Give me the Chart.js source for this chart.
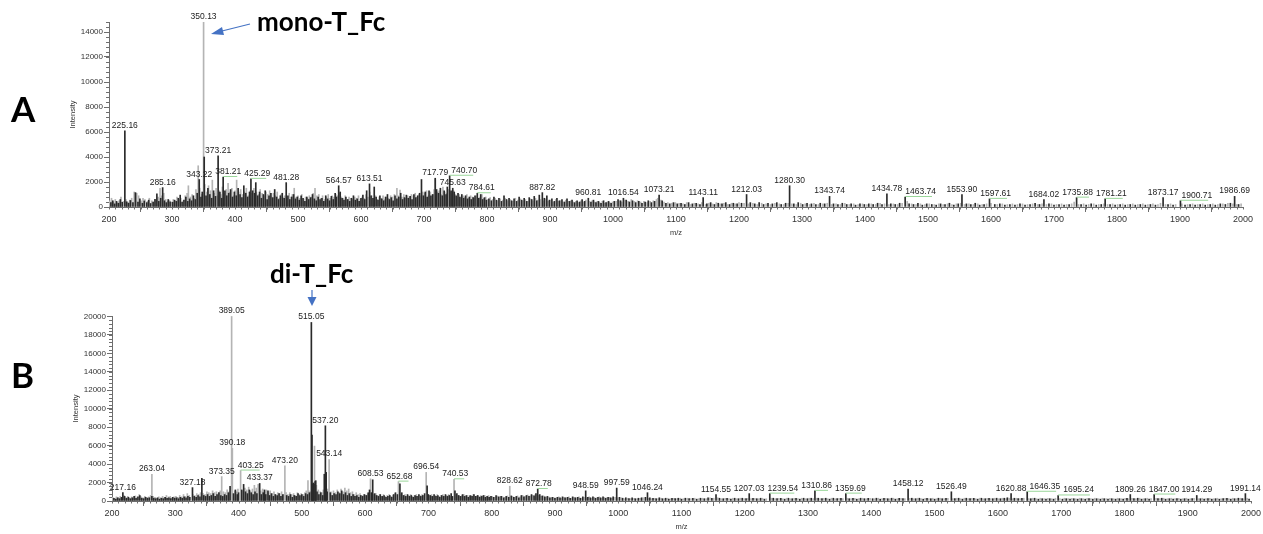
<!DOCTYPE html>
<html>
<head>
<meta charset="utf-8">
<script src="https://cdn.jsdelivr.net/npm/chart.js@4.4.1/dist/chart.umd.min.js"></script>
<style>
  html, body { margin: 0; padding: 0; background: #fff; }
  #page { position: relative; width: 1263px; height: 534px; overflow: hidden; }
  #chartA { position: absolute; left: 0; top: 0; }
  #chartB { position: absolute; left: 0; top: 240px; }
  #notes { position: absolute; left: 0; top: 0; pointer-events: none; }
  #notes text { font-family: Lato, "Open Sans", sans-serif; font-weight: bold; fill: #000; }
</style>
</head>
<body>
<div id="page">
  <canvas id="chartA" width="1263" height="240"></canvas>
  <canvas id="chartB" width="1263" height="294"></canvas>
  <svg id="notes" width="1263" height="534">
    <text x="11" y="122" font-size="35">A</text>
    <text x="11" y="388" font-size="35">B</text>
    <text x="257" y="31" font-size="26">mono-T_Fc</text>
    <line x1="250" y1="24" x2="222" y2="31" stroke="#4472C4" stroke-width="1.2"/>
    <polygon points="211,34 222,27 224,35" fill="#4472C4"/>
    <text x="270" y="283" font-size="26">di-T_Fc</text>
    <line x1="312" y1="290" x2="312" y2="298" stroke="#4472C4" stroke-width="1.2"/>
    <polygon points="307.5,297 316.5,297 312,306" fill="#4472C4"/>
  </svg>
</div>
<script>
// m/z axis tick labels
const mzTicks = [200, 300, 400, 500, 600, 700, 800, 900, 1000, 1100, 1200,
  1300, 1400, 1500, 1600, 1700, 1800, 1900, 2000];
// intensity tick labels
const aYTicks = [0, 2000, 4000, 6000, 8000, 10000, 12000, 14000];
const bYTicks = [0, 2000, 4000, 6000, 8000, 10000, 12000, 14000, 16000, 18000, 20000];

// Panel A (mono-T_Fc) - [m/z, intensity]
const aDark = [
  [203,350],[206,500],[209,250],[212,450],[215,300],[218,600],[221,380],[225.16,6100],[228,420],[231,300],
  [234,520],[238,350],[242,1150],[246,400],[249,650],[253,300],[256,480],[260,350],[263,550],[266,280],
  [270,400],[273,620],[276,1050],[279,450],[282,700],[285.16,1550],[288,500],[291,350],[294,600],[297,420],
  [301,380],[304,550],[307,450],[310,700],[313,950],[316,400],[319,550],[322,800],[325,450],[328,650],
  [331,500],[334,900],[337,600],[340,1100],[343.22,2200],[346,800],[348,1200],[351.13,4000],[354,900],[357,1500],
  [360,1000],[363,700],[366,1300],[369,850],[373.21,4100],[376,1200],[379,700],[381.21,2400],[384,1300],[387,900],
  [390,1100],[393,1400],[396,800],[399,1200],[402,900],[405,1500],[408,1000],[411,750],[414,1700],[417,1100],
  [420,800],[423,1200],[425.29,2250],[428,1300],[431,1100],[433,1950],[436,900],[439,1200],[442,700],[445,1000],
  [448,1300],[451,600],[454,900],[457,1100],[460,750],[463,1400],[466,800],[469,600],[472,900],[475,1100],
  [478,700],[481.28,1950],[484,900],[487,600],[490,800],[493,1000],[496,650],[499,800],[502,550],[505,900],
  [508,700],[511,450],[514,800],[517,600],[520,750],[523,1000],[526,650],[529,500],[532,800],[535,600],
  [538,700],[541,450],[544,900],[547,650],[550,500],[553,850],[556,600],[559,1100],[561,800],[564.57,1700],
  [567,1200],[570,700],[573,550],[576,800],[579,600],[582,450],[585,700],[588,900],[591,550],[594,650],
  [597,450],[600,700],[603,950],[606,600],[609,1300],[613.51,1850],[616,900],[619,700],[621,1600],[624,800],
  [627,550],[630,900],[633,650],[636,500],[639,800],[642,1000],[645,600],[648,750],[651,500],[654,900],
  [657,650],[660,800],[663,1100],[666,600],[669,750],[672,950],[675,700],[678,850],[681,600],[684,1000],
  [687,750],[690,900],[693,1100],[696,2200],[699,900],[702,1200],[705,800],[708,1300],[711,900],[714,1000],
  [717.79,2300],[720,1400],[723,1100],[726,1500],[729,900],[732,1300],[735,1000],[737,1600],[740.70,2500],[743,1300],
  [745.63,1500],[748,1200],[751,900],[754,1100],[757,800],[760,1000],[763,700],[766,900],[769,650],[772,800],
  [775,600],[778,750],[781,900],[784.61,1100],[787,700],[790,1000],[793,600],[796,750],[799,550],[803,650],
  [807,500],[811,800],[815,550],[819,700],[823,450],[827,900],[831,600],[835,700],[839,500],[843,650],
  [847,450],[851,800],[855,550],[859,700],[863,450],[867,750],[871,600],[875,850],[879,500],[883,950],
  [887.82,1150],[891,700],[895,900],[899,550],[903,650],[907,450],[911,700],[915,500],[919,600],[923,400],
  [927,650],[931,450],[935,550],[939,350],[943,500],[947,400],[951,600],[955,450],[960.81,700],[965,400],
  [969,550],[973,350],[977,450],[981,300],[985,500],[989,350],[993,450],[997,300],[1002,450],[1008,600],
  [1012,500],[1016.54,700],[1021,550],[1026,400],[1031,500],[1036,350],[1041,450],[1046,300],[1051,400],[1056,500],
  [1061,350],[1066,450],[1073.21,950],[1078,500],[1084,300],[1090,250],[1096,350],[1102,250],[1108,300],[1114,200],
  [1120,350],[1126,250],[1132,300],[1138,200],[1143.11,750],[1149,250],[1155,350],[1161,200],[1167,300],[1173,250],
  [1179,350],[1185,200],[1191,300],[1197,250],[1204,300],[1212.03,1000],[1218,350],[1225,250],[1232,350],[1239,200],
  [1246,300],[1253,250],[1260,350],[1267,200],[1274,300],[1280.30,1700],[1287,250],[1294,350],[1301,200],[1308,300],
  [1315,250],[1322,200],[1329,300],[1336,250],[1343.74,850],[1350,250],[1357,200],[1364,300],[1371,200],[1378,250],
  [1385,150],[1392,250],[1399,200],[1406,250],[1413,200],[1420,300],[1427,200],[1434.78,1050],[1441,250],[1448,200],
  [1455,300],[1463.74,800],[1470,250],[1477,200],[1484,300],[1491,150],[1498,250],[1506,200],[1513,150],[1520,250],
  [1527,200],[1534,300],[1541,150],[1548,250],[1553.90,1000],[1561,250],[1568,200],[1575,300],[1582,150],[1589,200],
  [1597.61,650],[1606,200],[1614,250],[1622,150],[1630,200],[1638,150],[1646,250],[1654,150],[1662,200],[1670,300],
  [1677,200],[1684.02,600],[1692,250],[1700,150],[1708,200],[1716,150],[1724,200],[1735.88,750],[1743,200],[1751,150],
  [1759,250],[1767,150],[1775,200],[1781.21,650],[1789,200],[1797,150],[1805,200],[1813,150],[1821,200],[1829,150],
  [1837,200],[1845,150],[1853,200],[1861,150],[1873.17,750],[1881,200],[1889,150],[1900.71,500],[1908,150],[1916,200],
  [1924,150],[1932,200],[1940,150],[1948,200],[1956,150],[1964,250],[1972,200],[1980,300],[1986.69,850],[1993,200]
];
const aLight = [
  [201,500],[204,700],[207,400],[210,600],[213,350],[216,500],[219,800],[223,450],[227,600],[230,400],
  [233,550],[236,700],[240,1200],[244,1100],[247,900],[251,500],[254,700],[257,600],[261,450],[264,700],
  [268,500],[271,400],[274,550],[278,800],[281,1500],[284,900],[287,1100],[290,600],[293,450],[296,550],
  [299,400],[302,600],[305,500],[308,800],[311,600],[314,700],[318,500],[321,900],[324,1100],[326,1700],
  [329,800],[332,1000],[335,700],[338,1400],[341.6,3300],[344,1500],[347,1000],[350.13,14800],[352,1800],[355,1200],
  [358,1700],[361,1300],[364,2150],[367,1100],[370,1500],[372,900],[375,1300],[378,1000],[380,1600],[383,1100],
  [386,1400],[389,1900],[392,1200],[395,1500],[398,900],[400,1300],[402.6,2150],[406,1200],[409,1400],[412,1000],
  [415,1200],[418,1500],[421,900],[424,1300],[427,1100],[430,1500],[434,1200],[437,1000],[440,1400],[443,1100],
  [446,900],[449,1200],[452,1000],[455,1300],[458,800],[461,1100],[464,900],[467,1200],[470,700],[473,1000],
  [476,800],[479,900],[483,700],[486,1100],[489,800],[491,1000],[494,1500],[497,800],[500,900],[503,700],
  [506,1000],[509,600],[512,800],[515,700],[518,900],[521,800],[524,1100],[527,1500],[530,900],[533,1000],
  [536,700],[539,900],[542,600],[545,800],[548,1000],[551,700],[554,900],[557,800],[560,1000],[563,900],
  [566,1100],[569,800],[572,700],[575,900],[578,600],[581,800],[584,700],[587,600],[590,800],[593,700],
  [596,900],[599,600],[602,800],[605,700],[608,1000],[611,800],[614,1200],[617,900],[620,700],[623,900],
  [626,600],[629,800],[632,700],[635,900],[638,600],[641,800],[644,700],[647,900],[650,800],[653,1000],
  [657,1500],[659,900],[662,1350],[665,800],[668,1000],[671,700],[674,900],[677,800],[680,1000],[683,900],
  [686,1100],[689,800],[692,1000],[695,900],[698,1200],[701,1100],[704,1300],[707,900],[710,1200],[713,1000],
  [716,1400],[718,2200],[721,1200],[724,1300],[727,1000],[730,1600],[733,1200],[736,1100],[739,1400],[742,1200],
  [744,1000],[747,1300],[750,1000],[753,800],[756,1000],[759,700],[762,900],[765,800],[768,1000],[771,700],
  [774,900],[777,800],[780,700],[783,900],[786,700],[789,800],[792,1000],[795,700],[798,800],[801,600],
  [805,750],[809,600],[813,700],[817,500],[821,650],[825,550],[829,700],[833,500],[837,600],[841,450],
  [845,700],[849,550],[853,650],[857,500],[861,600],[865,450],[869,650],[873,500],[877,700],[881,550],
  [885,600],[889,500],[893,650],[897,450],[901,550],[905,400],[909,600],[913,450],[917,500],[921,400],
  [925,550],[929,450],[933,500],[937,400],[941,450],[945,350],[949,500],[953,400],[957,550],[962,450],
  [967,500],[971,400],[975,450],[979,350],[983,450],[987,300],[991,400],[995,350],[999,400],[1005,450],
  [1010,500],[1014,400],[1019,550],[1024,450],[1029,600],[1034,450],[1039,500],[1044,400],[1049,450],[1054,350],
  [1059,450],[1064,500],[1069,600],[1071,700],[1076,550],[1081,400],[1087,350],[1093,300],[1099,350],[1105,300],
  [1111,250],[1117,350],[1123,200],[1129,300],[1135,250],[1141,350],[1147,200],[1152,300],[1158,250],[1164,350],
  [1170,250],[1176,300],[1182,200],[1188,300],[1194,250],[1200,350],[1208,300],[1215,250],[1222,300],[1229,200],
  [1236,300],[1243,250],[1250,200],[1257,300],[1264,250],[1271,200],[1278,300],[1284,250],[1291,200],[1298,300],
  [1305,250],[1312,200],[1319,300],[1326,200],[1333,250],[1340,300],[1347,200],[1354,250],[1361,200],[1368,300],
  [1375,200],[1382,250],[1389,200],[1396,250],[1403,200],[1410,250],[1417,200],[1424,300],[1431,250],[1438,200],
  [1445,250],[1452,200],[1459,300],[1467,450],[1474,250],[1481,200],[1488,250],[1495,200],[1502,250],[1510,200],
  [1517,250],[1524,200],[1531,250],[1538,200],[1545,250],[1552,300],[1558,200],[1565,250],[1572,200],[1579,250],
  [1586,200],[1593,250],[1600,300],[1610,200],[1618,250],[1626,200],[1634,250],[1642,200],[1650,250],[1658,200],
  [1666,250],[1674,200],[1681,250],[1688,200],[1696,250],[1704,200],[1712,250],[1720,200],[1728,250],[1732,400],
  [1739,200],[1747,250],[1755,200],[1763,250],[1771,200],[1779,250],[1785,200],[1793,250],[1801,200],[1809,250],
  [1817,200],[1825,250],[1833,200],[1841,250],[1849,200],[1857,250],[1865,200],[1869,300],[1877,200],[1885,250],
  [1893,200],[1903,250],[1912,200],[1920,250],[1928,200],[1936,250],[1944,200],[1952,250],[1960,200],[1968,250],
  [1976,300],[1984,250],[1990,200],[1997,250]
];
const aLabels = [225.16, 285.16, 343.22, 350.13, 373.21, 381.21, 425.29, 481.28, 564.57, 613.51,
  717.79, 740.70, 745.63, 784.61, 887.82, 960.81, 1016.54, 1073.21, 1143.11, 1212.03, 1280.30,
  1343.74, 1434.78, 1463.74, 1553.90, 1597.61, 1684.02, 1735.88, 1781.21, 1873.17, 1900.71, 1986.69];

// Panel B (di-T_Fc) - [m/z, intensity]
const bDark = [
  [203,300],[206,200],[209,350],[212,250],[215,400],[217.16,900],[220,500],[223,300],[226,400],[229,250],
  [232,350],[235,500],[238,300],[241,450],[244,600],[247,300],[250,250],[253,400],[256,300],[259,350],
  [263,500],[266,300],[269,250],[272,350],[275,200],[278,300],[281,250],[284,400],[287,300],[290,350],
  [293,250],[296,400],[299,300],[302,350],[305,250],[308,400],[311,300],[314,450],[317,350],[320,500],
  [323,400],[327.18,1450],[330,500],[333,400],[336,600],[339,450],[342,2450],[345,600],[348,500],[351,700],
  [354,500],[357,600],[360,800],[363,500],[366,700],[369,900],[372,600],[375,500],[378,700],[381,600],
  [384,900],[386.6,1600],[392,800],[395,1200],[398,700],[400,900],[405,1200],[408,1800],[411,1000],[414,800],
  [417,1200],[420,900],[423,700],[426,1000],[429,800],[433.37,1900],[436,700],[439,900],[441,1200],[443,700],
  [446.5,1100],[449,600],[452,800],[455,500],[458,700],[461,600],[464,800],[467,500],[470,700],[476,600],
  [479,500],[482,700],[485,400],[488,600],[491,500],[494,800],[497,600],[500,700],[503,500],[506,800],
  [509,700],[512,900],[515.05,19350],[516.05,7150],[517.3,1850],[518.3,1950],[519.2,1800],[521,2100],[522,2200],[524,1000],
  [527,700],[530,900],[533,600],[535.5,2900],[537.20,8150],[538.5,3100],[540,1000],[545,900],[548,600],[551,800],
  [554,700],[557,1000],[560,800],[563,1100],[566,700],[569,900],[572,600],[575,800],[578,500],[581,700],
  [584,500],[587,600],[590,400],[593,600],[596,500],[599,700],[602,600],[605,900],[607,1200],[610,900],
  [612,2300],[615,800],[618,600],[621,500],[624,700],[627,500],[630,600],[633,400],[636,500],[639,600],
  [642,400],[645,700],[648,900],[651,700],[655,1850],[658,900],[661,600],[664,500],[667,700],[670,500],
  [673,600],[676,400],[679,600],[682,500],[685,700],[688,500],[691,600],[694,800],[698,1650],[700,700],
  [703,600],[706,500],[709,700],[712,500],[715,600],[718,400],[721,600],[724,500],[727,700],[730,500],
  [733,600],[736,800],[738,500],[742,1100],[745,800],[748,600],[751,500],[754,700],[757,500],[760,600],
  [763,400],[766,600],[769,500],[772,700],[775,500],[778,600],[781,400],[784,500],[787,600],[790,400],
  [793,500],[796,400],[799,500],[803,400],[807,600],[811,450],[815,500],[819,350],[823,500],[827,400],
  [831,550],[835,400],[839,500],[843,350],[847,600],[851,450],[855,600],[859,500],[863,700],[867,550],
  [870,800],[872.78,1300],[876,700],[880,550],[884,450],[888,500],[892,350],[896,400],[900,300],[904,400],
  [908,350],[912,450],[916,350],[920,400],[924,300],[928,450],[932,350],[936,400],[940,300],[944,450],
  [948.59,1100],[952,400],[956,350],[960,450],[964,300],[968,400],[972,350],[976,450],[980,300],[984,400],
  [988,350],[992,450],[997.59,1400],[1002,400],[1007,300],[1012,350],[1017,250],[1022,350],[1027,250],[1032,300],
  [1037,350],[1043,400],[1046.24,900],[1050,350],[1055,300],[1060,250],[1065,350],[1070,250],[1075,300],[1080,200],
  [1085,300],[1090,250],[1095,300],[1100,200],[1106,300],[1112,250],[1118,300],[1124,200],[1130,300],[1136,250],
  [1142,350],[1148,300],[1154.55,700],[1160,300],[1166,250],[1172,300],[1178,200],[1184,300],[1190,250],[1196,300],
  [1202,250],[1207.03,800],[1213,300],[1219,250],[1225,300],[1231,200],[1239.54,800],[1245,300],[1251,250],[1257,300],
  [1263,200],[1269,300],[1275,250],[1281,300],[1287,200],[1293,300],[1299,250],[1305,300],[1310.86,1100],[1316,300],
  [1322,250],[1328,300],[1334,200],[1340,300],[1346,250],[1352,300],[1359.69,800],[1365,250],[1371,300],[1377,200],
  [1383,300],[1389,250],[1395,300],[1402,250],[1408,300],[1414,200],[1420,300],[1426,250],[1432,300],[1438,200],
  [1444,300],[1450,250],[1458.12,1300],[1464,300],[1470,250],[1476,300],[1482,200],[1488,300],[1494,250],[1500,200],
  [1506,300],[1512,250],[1518,300],[1526.49,1000],[1532,250],[1538,300],[1544,200],[1550,300],[1556,250],[1562,300],
  [1568,200],[1574,300],[1580,250],[1586,300],[1592,250],[1598,300],[1604,250],[1610,300],[1615,350],[1620.88,800],
  [1626,300],[1632,250],[1638,300],[1646.35,1000],[1652,250],[1658,300],[1664,200],[1670,250],[1676,200],[1682,250],
  [1688,200],[1695.24,600],[1702,200],[1708,250],[1714,200],[1720,250],[1726,200],[1732,250],[1738,200],[1744,250],
  [1750,200],[1756,250],[1762,200],[1768,250],[1774,200],[1780,250],[1786,200],[1792,250],[1798,200],[1804,300],
  [1809.26,700],[1815,250],[1821,300],[1827,200],[1833,250],[1839,200],[1847.00,700],[1853,250],[1859,300],[1865,200],
  [1871,250],[1877,200],[1883,250],[1889,200],[1895,250],[1901,200],[1907,250],[1914.29,600],[1920,250],[1926,200],
  [1932,250],[1938,200],[1944,250],[1950,200],[1956,250],[1962,300],[1968,200],[1974,250],[1980,300],[1986,250],
  [1991.14,800],[1997,200]
];
const bLight = [
  [201,400],[204,300],[207,450],[210,350],[213,500],[219,600],[222,350],[225,500],[228,300],[231,450],
  [234,350],[237,550],[240,400],[243,700],[246,450],[249,350],[252,500],[255,400],[258,450],[261,600],
  [263.04,2900],[265,500],[268,400],[271,300],[274,450],[277,350],[280,500],[283,400],[286,600],[289,450],
  [292,500],[295,350],[298,450],[301,500],[304,400],[307,600],[310,450],[313,700],[316,500],[319,800],
  [322,600],[328,700],[331,600],[334,800],[337,700],[340,900],[344,800],[347,700],[350,1000],[353,900],
  [356,800],[359,1100],[362,900],[365,1000],[368,800],[371,1100],[373.35,2650],[376,1000],[379,900],[382,1200],
  [385,1000],[389.05,20000],[390.18,5700],[394,1100],[397,1000],[399,1300],[403.25,3300],[407,1100],[410,1400],[413,1200],
  [416,1500],[419,1100],[422,1300],[425,1700],[428,1400],[431,1800],[435,1100],[438,1300],[441,1000],[444,1200],
  [447,900],[450,1100],[453,800],[456,1000],[459,700],[462,900],[465,800],[468,1000],[471,700],[473.20,3800],
  [475,900],[478,700],[481,900],[484,700],[487,800],[490,600],[493,900],[496,700],[499,800],[502,700],
  [505,900],[507,1100],[509.7,2200],[511,1100],[514,1000],[520,5950],[523,1700],[526,1200],[529,1000],[532,900],
  [534,1200],[541,1300],[543.14,4500],[546,1000],[550,1100],[553,900],[556,1200],[559,900],[562,1300],[565,1000],
  [568,1400],[571,1100],[574,1300],[577,900],[580,1000],[583,700],[586,900],[589,700],[592,800],[595,600],
  [598,700],[601,600],[604,800],[608.53,2400],[611,900],[614,700],[617,800],[620,600],[623,700],[626,500],
  [629,700],[632,500],[635,600],[638,700],[641,500],[644,600],[647,800],[652.68,2100],[654,900],[657,700],
  [660,600],[663,700],[666,500],[669,600],[672,700],[675,500],[678,600],[681,700],[684,500],[687,600],
  [690,700],[693,600],[696.54,3100],[699,700],[702,600],[705,700],[708,500],[711,600],[714,700],[717,500],
  [720,600],[723,700],[726,500],[729,600],[732,700],[735,500],[740.53,2350],[744,700],[747,600],[750,500],
  [753,600],[756,700],[759,500],[762,600],[765,500],[768,600],[771,700],[774,500],[777,600],[780,500],
  [783,600],[786,500],[789,600],[792,500],[795,600],[798,500],[801,500],[805,400],[809,550],[813,450],
  [817,500],[821,400],[825,550],[828.62,1600],[833,500],[837,400],[841,550],[845,450],[849,600],[853,500],
  [857,650],[861,550],[865,600],[869,700],[874,600],[878,500],[882,550],[886,400],[890,450],[894,350],
  [898,400],[902,350],[906,450],[910,300],[914,400],[918,350],[922,450],[926,300],[930,400],[934,350],
  [938,450],[942,300],[946,400],[950,350],[954,450],[958,300],[962,400],[966,350],[970,450],[974,300],
  [978,400],[982,350],[986,400],[990,300],[995,400],[999,350],[1005,350],[1010,250],[1015,300],[1020,250],
  [1025,300],[1030,250],[1035,300],[1040,350],[1048,300],[1053,250],[1058,300],[1063,250],[1068,300],[1073,250],
  [1078,300],[1083,250],[1088,300],[1093,250],[1098,300],[1103,250],[1109,300],[1115,250],[1121,300],[1127,250],
  [1133,300],[1139,250],[1145,350],[1151,300],[1157,350],[1163,250],[1169,300],[1175,250],[1181,300],[1187,250],
  [1193,300],[1199,250],[1205,300],[1210,250],[1216,300],[1222,250],[1228,300],[1234,250],[1242,300],[1248,250],
  [1254,300],[1260,250],[1266,300],[1272,250],[1278,300],[1284,250],[1290,300],[1296,250],[1302,300],[1308,250],
  [1313,300],[1319,250],[1325,300],[1331,250],[1337,300],[1343,250],[1349,300],[1355,250],[1362,300],[1368,250],
  [1374,300],[1380,250],[1386,300],[1392,250],[1398,300],[1405,250],[1411,300],[1417,250],[1423,300],[1429,250],
  [1435,300],[1441,250],[1447,300],[1453,250],[1461,300],[1467,250],[1473,300],[1479,250],[1485,300],[1491,250],
  [1497,300],[1503,250],[1509,300],[1515,250],[1521,300],[1529,250],[1535,300],[1541,250],[1547,300],[1553,250],
  [1559,300],[1565,250],[1571,300],[1577,250],[1583,300],[1589,250],[1595,300],[1601,250],[1607,300],[1613,250],
  [1618,300],[1623,250],[1629,300],[1635,250],[1641,300],[1649,250],[1655,300],[1661,250],[1667,300],[1673,250],
  [1679,300],[1685,250],[1691,300],[1698,250],[1705,300],[1711,250],[1717,300],[1723,250],[1729,300],[1735,250],
  [1741,300],[1747,250],[1753,300],[1759,250],[1765,300],[1771,250],[1777,300],[1783,250],[1789,300],[1795,250],
  [1801,300],[1806,250],[1812,300],[1818,250],[1824,300],[1830,250],[1836,300],[1842,250],[1850,300],[1856,250],
  [1862,300],[1868,250],[1874,300],[1880,250],[1886,300],[1892,250],[1898,300],[1904,250],[1910,300],[1917,250],
  [1923,300],[1929,250],[1935,300],[1941,250],[1947,300],[1953,250],[1959,300],[1965,250],[1971,300],[1977,250],
  [1983,300],[1988,250],[1994,300]
];
const bLabels = [217.16, 263.04, 327.18, 373.35, 389.05, 390.18, 403.25, 433.37, 473.20, 515.05,
  537.20, 543.14, 608.53, 652.68, 696.54, 740.53, 828.62, 872.78, 948.59, 997.59, 1046.24,
  1154.55, 1207.03, 1239.54, 1310.86, 1359.69, 1458.12, 1526.49, 1620.88, 1646.35, 1695.24,
  1809.26, 1847.00, 1914.29, 1991.14];

Chart.defaults.font.family = '"Liberation Sans", Arial, sans-serif';
Chart.defaults.color = '#333';

const AXIS = '#6e6e6e';

function toPoints(pairs) {
    return pairs.map(p => ({ x: p[0], y: p[1] }));
}

// peak labels above the sticks, nudged right when they would overlap
const peakLabels = {
    id: 'peakLabels',
    afterDatasetsDraw(chart, args, opts) {
        const { ctx } = chart;
        const xs = chart.scales.x;
        const ys = chart.scales.y;
        const all = chart.data.datasets.flatMap(d => d.data);
        ctx.save();
        ctx.font = '8.5px "Liberation Sans", Arial, sans-serif';
        ctx.textAlign = 'center';
        ctx.textBaseline = 'alphabetic';
        const boxes = [];
        opts.values.forEach(mz => {
            const peak = all.find(p => p.x === mz);
            if (!peak) return;
            const px = xs.getPixelForValue(mz);
            const base = ys.getPixelForValue(peak.y) - 3;
            const text = mz.toFixed(2);
            const w = ctx.measureText(text).width;
            let cx = px;
            boxes.forEach(b => {
                const vOverlap = base > b.base - 9 && base - 9 < b.base;
                if (vOverlap && cx - w / 2 < b.right + 2 && cx + w / 2 > b.left - 2) {
                    cx = b.right + 3 + w / 2;
                }
            });
            if (cx !== px) {
                ctx.strokeStyle = '#9ad69a';
                ctx.lineWidth = 1;
                ctx.beginPath();
                ctx.moveTo(px, base + 2.5);
                ctx.lineTo(cx + w / 2 - 4, base + 2.5);
                ctx.stroke();
            }
            ctx.fillStyle = '#222';
            ctx.fillText(text, cx, base);
            boxes.push({ left: cx - w / 2, right: cx + w / 2, base: base });
        });
        ctx.restore();
    }
};

// small minor tick marks on both axes
const minorTicks = {
    id: 'minorTicks',
    afterDraw(chart, args, opts) {
        const { ctx, chartArea } = chart;
        const xs = chart.scales.x;
        const ys = chart.scales.y;
        ctx.save();
        ctx.strokeStyle = AXIS;
        ctx.lineWidth = 1;
        ctx.beginPath();
        for (let v = xs.min; v <= xs.max; v += opts.x) {
            const p = Math.round(xs.getPixelForValue(v)) + 0.5;
            ctx.moveTo(p, chartArea.bottom);
            ctx.lineTo(p, chartArea.bottom + 2.5);
        }
        for (let v = 0; v <= ys.max; v += opts.y) {
            const p = Math.round(ys.getPixelForValue(v)) + 0.5;
            ctx.moveTo(chartArea.left - 3, p);
            ctx.lineTo(chartArea.left, p);
        }
        ctx.stroke();
        ctx.restore();
    }
};

function makeSpectrum(id, dark, light, labels, yTicks, yMax, pad, yWidth) {
    return new Chart(document.getElementById(id), {
        type: 'bar',
        data: {
            datasets: [{
                data: toPoints(dark),
                backgroundColor: '#2a2a2a',
                barThickness: 1,
                grouped: false
            }, {
                data: toPoints(light),
                backgroundColor: '#b4b4b4',
                barThickness: 1,
                grouped: false
            }]
        },
        options: {
            responsive: false,
            animation: false,
            events: [],
            layout: { padding: pad },
            plugins: {
                legend: { display: false },
                tooltip: { enabled: false },
                peakLabels: { values: labels },
                minorTicks: { x: 10, y: 400 }
            },
            scales: {
                x: {
                    type: 'linear',
                    min: mzTicks[0],
                    max: mzTicks[mzTicks.length - 1],
                    offset: false,
                    border: { color: AXIS },
                    grid: { drawOnChartArea: false, tickLength: 5, color: AXIS },
                    afterBuildTicks: s => { s.ticks = mzTicks.map(v => ({ value: v })); },
                    ticks: { autoSkip: false, maxRotation: 0, padding: 2, font: { size: 9 }, callback: v => String(v) },
                    title: { display: true, text: 'm/z', font: { size: 7.5 }, padding: { top: 0, bottom: 3 } },
                    afterFit: s => { s.height = 33; }
                },
                y: {
                    min: 0,
                    max: yMax,
                    border: { color: AXIS },
                    grid: { drawOnChartArea: false, tickLength: 5, color: AXIS },
                    afterBuildTicks: s => { s.ticks = yTicks.map(v => ({ value: v })); },
                    ticks: { padding: 1, font: { size: 8 }, callback: v => String(v) },
                    title: { display: true, text: 'Intensity', font: { size: 7.5 }, padding: { top: 4, bottom: 0 } },
                    afterFit: s => { s.width = yWidth; }
                }
            }
        },
        plugins: [peakLabels, minorTicks]
    });
}

makeSpectrum('chartA', aDark, aLight, aLabels, aYTicks, 14800, { left: 64, right: 20, top: 22, bottom: 0 }, 45);
makeSpectrum('chartB', bDark, bLight, bLabels, bYTicks, 20050, { left: 67, right: 10, top: 76, bottom: 0 }, 45);
</script>
</body>
</html>
